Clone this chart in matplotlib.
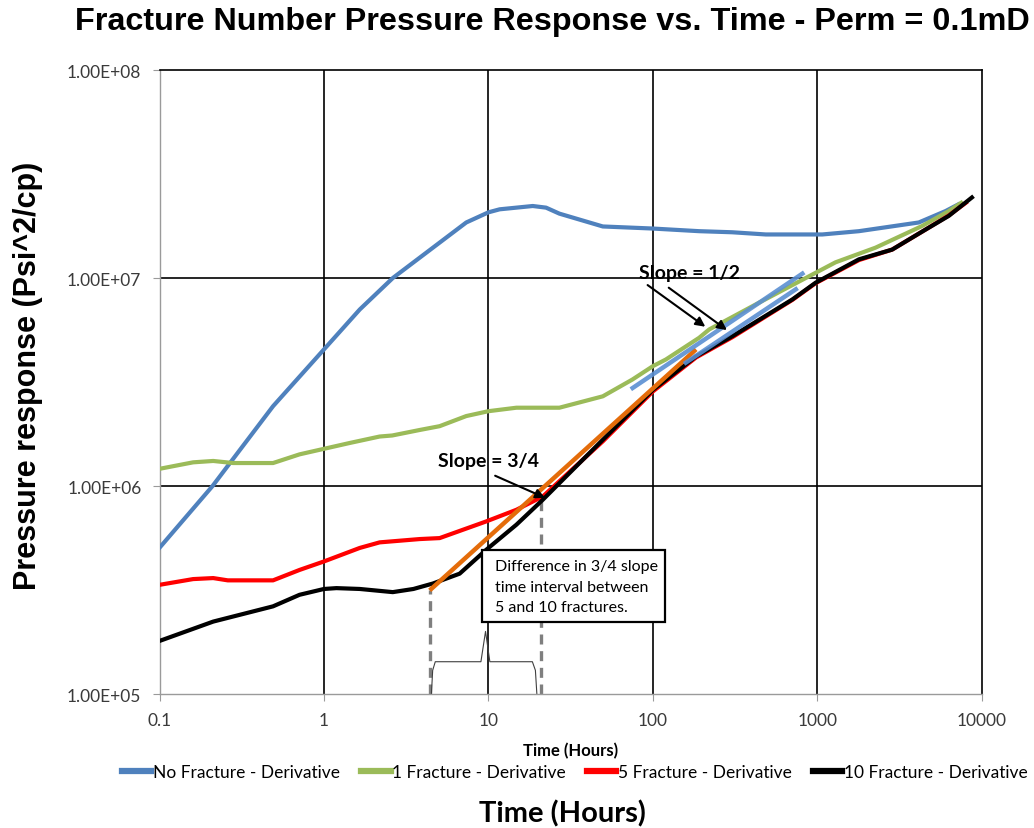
import matplotlib
matplotlib.use("Agg")
import matplotlib.pyplot as plt
from matplotlib.patches import Rectangle
from matplotlib.ticker import FixedLocator, FixedFormatter

# data (time in hours, pressure response in psi^2/cp)
t_none = [0.1, 0.21, 0.49, 1.0, 1.65, 2.62, 7.33, 10, 11.7, 18.6, 22.4, 27, 49.6,
          99.6, 191, 303, 486, 1072, 1790, 4140, 6030, 7200]
p_none = [5.05e5, 1.0e6, 2.42e6, 4.54e6, 7.06e6, 1.0e7, 1.85e7, 2.07e7, 2.14e7, 2.22e7,
          2.18e7, 2.04e7, 1.77e7, 1.73e7, 1.68e7, 1.66e7, 1.62e7, 1.62e7, 1.68e7,
          1.85e7, 2.10e7, 2.26e7]

t_one = [0.1, 0.16, 0.212, 0.28, 0.49, 0.71, 1.0, 1.43, 2.18, 2.6, 3.82, 5.05, 7.33,
         10, 14.8, 27, 49.6, 75, 100, 120, 191, 220, 443, 977, 1290, 2260, 4340,
         6300, 7500]
p_one = [1.21e6, 1.30e6, 1.32e6, 1.29e6, 1.29e6, 1.42e6, 1.51e6, 1.61e6, 1.73e6,
         1.75e6, 1.86e6, 1.94e6, 2.17e6, 2.29e6, 2.38e6, 2.38e6, 2.70e6, 3.25e6,
         3.77e6, 4.06e6, 5.16e6, 5.66e6, 7.62e6, 1.06e7, 1.19e7, 1.40e7, 1.78e7,
         2.10e7, 2.30e7]

t_five = [0.1, 0.16, 0.212, 0.26, 0.49, 0.71, 1.0, 1.65, 2.18, 3.82, 5.05, 9.7,
          14.8, 21.4, 49.6, 100, 183, 305, 705, 977, 1790, 2850, 4550, 6300, 8000]
p_five = [3.35e5, 3.57e5, 3.61e5, 3.52e5, 3.52e5, 3.95e5, 4.34e5, 5.04e5, 5.36e5,
          5.56e5, 5.62e5, 6.76e5, 7.69e5, 8.91e5, 1.64e6, 2.85e6, 4.15e6, 5.2e6,
          7.85e6, 9.45e6, 1.22e7, 1.37e7, 1.71e7, 2.0e7, 2.3e7]

t_ten = [0.1, 0.212, 0.49, 0.71, 1.0, 1.19, 1.65, 2.62, 3.5, 4.6, 6.68, 9.7, 14.8,
         21.4, 49.6, 100, 183, 305, 705, 977, 1790, 2850, 4550, 6300, 8710]
p_ten = [1.8e5, 2.23e5, 2.64e5, 3.0e5, 3.2e5, 3.23e5, 3.2e5, 3.09e5, 3.2e5, 3.4e5,
         3.79e5, 4.94e5, 6.52e5, 8.59e5, 1.67e6, 2.9e6, 4.2e6, 5.26e6, 7.89e6,
         9.5e6, 1.23e7, 1.37e7, 1.71e7, 1.99e7, 2.44e7]

labels = ["No Fracture - Derivative", "1 Fracture - Derivative",
          "5 Fracture - Derivative", "10 Fracture - Derivative"]

# hand-drawn slope lines and annotations from the chart
slope34_t = [4.39, 183]
slope34_p = [3.15e5, 4.54e6]
slope12a_t = [75.3, 811]
slope12a_p = [2.96e6, 1.05e7]
slope12b_t = [158.6, 740]
slope12b_p = [3.92e6, 8.83e6]
dash_t = [4.39, 20.9]
dash_top = [3.15e5, 8.7e5]
brace_t = [4.5, 4.58, 4.75, 9.0, 9.6, 10.2, 18.5, 19.3, 19.7]
brace_p = [1.0e5, 1.3e5, 1.43e5, 1.43e5, 2.0e5, 1.43e5, 1.43e5, 1.3e5, 1.0e5]

xticks = [0.1, 1, 10, 100, 1000, 10000]
xticklabels = ["0.1", "1", "10", "100", "1000", "10000"]
yticks = [1e5, 1e6, 1e7, 1e8]
yticklabels = ["1.00E+05", "1.00E+06", "1.00E+07", "1.00E+08"]

narrow = ["Lato", "DejaVu Sans"]
arial = ["Liberation Sans", "DejaVu Sans"]

fig = plt.figure(figsize=(10.34, 8.29), dpi=100)
ax = fig.add_axes([0.1543, 0.1616, 0.7952, 0.7527])
ax.set_xscale("log")
ax.set_yscale("log")
ax.set_xlim(0.1, 10000)
ax.set_ylim(1e5, 1e8)

for v in [1, 10, 100, 1000]:
    ax.axvline(v, color="black", lw=1.2, zorder=1)
for v in [1e6, 1e7]:
    ax.axhline(v, color="black", lw=1.2, zorder=1)

for s in ["top", "right"]:
    ax.spines[s].set_color("black")
    ax.spines[s].set_linewidth(1.2)
for s in ["left", "bottom"]:
    ax.spines[s].set_color("#9a9a9a")
    ax.spines[s].set_linewidth(1.0)

lw = 3.0
h1, = ax.plot(t_none, p_none, color="#4F81BD", lw=lw, zorder=3)
h2, = ax.plot(t_one, p_one, color="#9BBB59", lw=lw, zorder=3)
h3, = ax.plot(t_five, p_five, color="#FF0000", lw=lw, zorder=3)
h4, = ax.plot(t_ten, p_ten, color="black", lw=lw, zorder=3)

ax.plot(slope34_t, slope34_p, color="#E46C0A", lw=3.2, zorder=4, solid_capstyle="butt")
ax.plot(slope12a_t, slope12a_p, color="#5B8FD2", lw=3.2, zorder=4, alpha=0.9)
ax.plot(slope12b_t, slope12b_p, color="#5B8FD2", lw=3.2, zorder=4, alpha=0.9)

for t, p in zip(dash_t, dash_top):
    ax.plot([t, t], [1e5, p], color="#7f7f7f", lw=2.4, ls=(0, (3, 2)), zorder=2)
ax.plot(brace_t, brace_p, color="#404040", lw=0.8, zorder=2)

# slope labels and arrows
ax.text(82.8, 1.06e7, "Slope = 1/2", fontsize=14, fontweight="bold",
        family=narrow, va="center", ha="left", zorder=6)
ax.annotate("", xy=(215, 5.73e6), xytext=(90, 9.42e6),
            arrowprops=dict(arrowstyle="-|>", color="black", lw=1.5, mutation_scale=14), zorder=6)
ax.annotate("", xy=(291, 5.52e6), xytext=(121, 9.15e6),
            arrowprops=dict(arrowstyle="-|>", color="black", lw=1.5, mutation_scale=14), zorder=6)
ax.text(4.93, 1.33e6, "Slope = 3/4", fontsize=14, fontweight="bold",
        family=narrow, va="center", ha="left", zorder=6)
ax.annotate("", xy=(22.9, 8.67e5), xytext=(10.6, 1.135e6),
            arrowprops=dict(arrowstyle="-|>", color="black", lw=1.5, mutation_scale=14), zorder=6)

ax.add_patch(Rectangle((9.17, 2.22e5), 119 - 9.17, 4.9e5 - 2.22e5, facecolor="white",
                       edgecolor="black", lw=1.6, zorder=5))
ax.text(10.9, 4.45e5, "Difference in 3/4 slope\ntime interval between\n5 and 10 fractures.",
        fontsize=11.5, family=narrow, va="top", ha="left", linespacing=1.6, zorder=6)

ax.xaxis.set_major_locator(FixedLocator(xticks))
ax.xaxis.set_major_formatter(FixedFormatter(xticklabels))
ax.yaxis.set_major_locator(FixedLocator(yticks))
ax.yaxis.set_major_formatter(FixedFormatter(yticklabels))
ax.minorticks_off()
ax.tick_params(axis="both", length=5, color="#9a9a9a", labelsize=12.5,
               labelcolor="#3a3a3a", pad=8)
for lab in ax.get_xticklabels() + ax.get_yticklabels():
    lab.set_family(narrow)

ax.set_xlabel("Time (Hours)", fontsize=12, fontweight="bold", family=narrow, labelpad=10)

fig.text(0.534, 0.973, "Fracture Number Pressure Response vs. Time - Perm = 0.1mD",
         fontsize=23.3, fontweight="bold", family=arial, ha="center", va="center")
fig.text(0.027, 0.546, "Pressure response (Psi^2/cp)", rotation=90, fontsize=22,
         fontweight="bold", family=arial, ha="center", va="center")
fig.text(0.544, 0.018, "Time (Hours)", fontsize=21, fontweight="bold",
         family=narrow, ha="center", va="center")

leg = fig.legend([h1, h2, h3, h4], labels, loc="center", bbox_to_anchor=(0.556, 0.068),
                 ncol=4, frameon=False, handlelength=1.7, handletextpad=0.1,
                 columnspacing=1.2, prop={"family": narrow, "size": 12.5})
for line in leg.get_lines():
    line.set_linewidth(4.5)

fig.savefig("out.png", dpi=100)
